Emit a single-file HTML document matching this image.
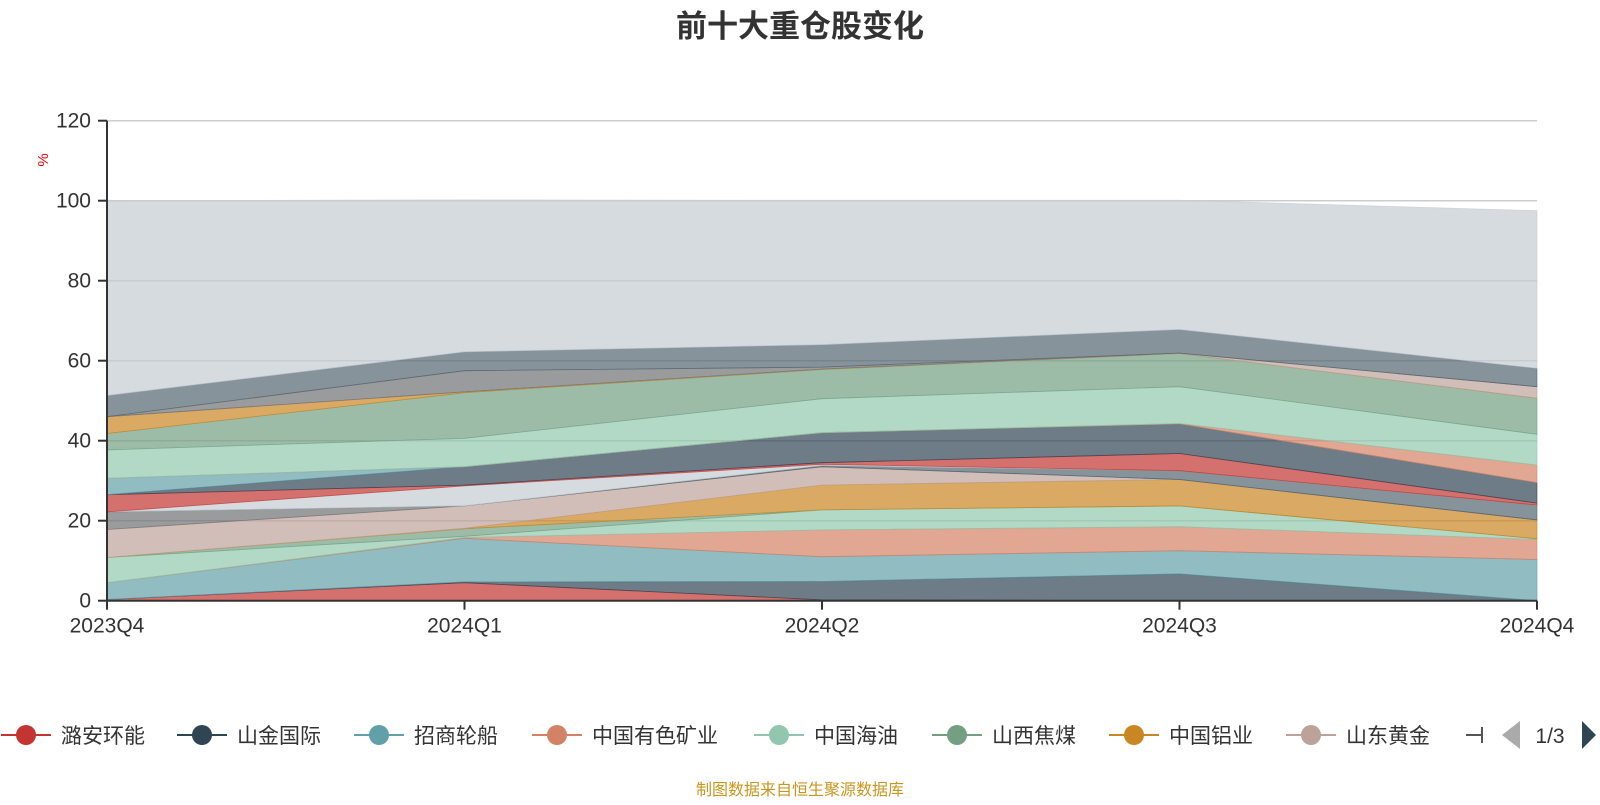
<!DOCTYPE html>
<html><head><meta charset="utf-8"><style>
body{margin:0;background:#fff;}
svg text{font-family:"Liberation Sans","Noto Sans CJK SC",sans-serif;}
</style></head><body>
<svg id="chart" width="1600" height="800" xmlns="http://www.w3.org/2000/svg">
<text x="800" y="37" text-anchor="middle" font-size="31" font-weight="bold" fill="#333">前十大重仓股变化</text>
<g id="grid"></g>
<g id="areas"></g>
<g id="axes"></g>
<g id="legend"></g>
<text x="800" y="795" text-anchor="middle" font-size="16" fill="#c8961e">制图数据来自恒生聚源数据库</text>
</svg>
<script>
const categories = ["2023Q4","2024Q1","2024Q2","2024Q3","2024Q4"];
const yTicks = [0,20,40,60,80,100,120];
const seriesNames = ["潞安环能","山金国际","招商轮船","中国有色矿业","中国海油","山西焦煤","中国铝业","山东黄金","持仓9","持仓10","持仓11","持仓12","持仓13","持仓14","持仓15","持仓16","持仓17","持仓18","持仓19","持仓20","持仓21","其他"];
const s1 = [0.3,4.5,0.2,0,0];
const s2 = [0,0.2,4.6,6.7,0];
const s3 = [4.2,10.9,6.2,5.8,10.3];
const s4 = [0,0.2,6.7,6,5];
const s5 = [6.3,0.3,5,5.2,0.2];
const s6 = [0,1.9,0,0,0];
const s7 = [0,0.1,6.2,6.6,4.7];
const s8 = [7,5.6,4.6,0,0];
const s9 = [4.4,0,0,0,0];
const s10 = [0,0,0.3,2.2,3.7];
const s11 = [0,5,0.3,0,0];
const s12 = [4.3,0.2,0.4,4.3,0.5];
const s13 = [0,4.6,7.5,7.4,5.1];
const s14 = [4.1,0,0,0,0];
const s15 = [0,0,0,0.1,4.4];
const s16 = [7.1,7.1,8.5,9.2,7.7];
const s17 = [4.1,11.4,7.3,8.3,9];
const s18 = [4.2,0.2,0.1,0,0];
const s19 = [0,0,0,0.1,2.9];
const s20 = [0,5.3,0.5,0,0];
const s21 = [5.3,4.7,5.6,5.9,4.6];
const s22 = [48.7,38,36.1,32.3,39.4];
const seriesValues = [s1,s2,s3,s4,s5,s6,s7,s8,s9,s10,s11,s12,s13,s14,s15,s16,s17,s18,s19,s20,s21,s22];
const palette = ['#c23531','#2f4554','#61a0a8','#d48265','#91c7ae','#749f83','#ca8622','#bda29a','#6e7074','#546570','#c4ccd3'];

const NS="http://www.w3.org/2000/svg";
const X0=107,X1=1537,Y0=600.7,Y1=120.7,YMAX=120;
const xPos=i=>X0+(X1-X0)*i/(categories.length-1);
const yPos=v=>Y0-(Y0-Y1)*v/YMAX;
function mk(tag,attrs,parent){const e=document.createElementNS(NS,tag);for(const k in attrs)e.setAttribute(k,attrs[k]);parent.appendChild(e);return e;}
const grid=document.getElementById('grid'),areas=document.getElementById('areas'),axes=document.getElementById('axes'),legend=document.getElementById('legend');

yTicks.forEach(t=>{
  if(t>0){const g=mk('line',{x1:X0,x2:X1,y1:yPos(t),y2:yPos(t),stroke:'#ccc','stroke-width':1.5},grid);
  
  }
  const tk=mk('line',{x1:X0-9,x2:X0,y1:yPos(t),y2:yPos(t),stroke:'#333','stroke-width':2},axes);
  
  
  const lb=mk('text',{x:X0-16,y:yPos(t)+7,'text-anchor':'end','font-size':21,fill:'#333'},axes);
  lb.textContent=t;
  
  
});
const unit=mk('text',{x:0,y:0,'font-size':15,fill:'#e00','text-anchor':'middle',transform:'translate(48,160) rotate(-90)'},axes);
unit.textContent='%';



// stacked areas
let base=categories.map(()=>0);
seriesValues.forEach((vals,si)=>{
  const top=vals.map((v,i)=>base[i]+v);
  let pts=[];
  top.forEach((v,i)=>pts.push(xPos(i)+','+yPos(v)));
  for(let i=base.length-1;i>=0;i--)pts.push(xPos(i)+','+yPos(base[i]));
  const col=palette[si%palette.length];
  const p=mk('polygon',{points:pts.join(' '),fill:col,'fill-opacity':0.7,stroke:col,'stroke-opacity':0.7,'stroke-width':0.8},areas);
  
  
  base=top;
});

const ya=mk('line',{x1:X0,x2:X0,y1:Y1,y2:Y0,stroke:'#333','stroke-width':2},axes);


const xa=mk('line',{x1:X0,x2:X1,y1:Y0,y2:Y0,stroke:'#333','stroke-width':2},axes);


categories.forEach((c,i)=>{
  const tk=mk('line',{x1:xPos(i),x2:xPos(i),y1:Y0,y2:Y0+9,stroke:'#333','stroke-width':2},axes);
  
  
  const lb=mk('text',{x:xPos(i),y:Y0+32,'text-anchor':'middle','font-size':21,fill:'#333'},axes);
  lb.textContent=c;
  
  
});

// legend
const legX=[26,202,379,557,779,957,1134,1311];
const LY=735;
legX.forEach((cx,i)=>{
  const g=mk('g',{},legend);
  
  
  const col=palette[i];
  mk('line',{x1:cx-25,x2:cx+25,y1:LY,y2:LY,stroke:col,'stroke-width':2},g);
  mk('circle',{cx:cx,cy:LY,r:10,fill:col},g);
  const t=mk('text',{x:cx+35,y:LY+8,'font-size':21,fill:'#333'},g);
  t.textContent=seriesNames[i];
});
const part=mk('path',{d:'M1466 735 H1482 M1482 727 V743',stroke:'#555','stroke-width':2,fill:'none'},legend);


const la=mk('polygon',{points:'1502,735 1520,721 1520,749',fill:'#aaa'},legend);


const pg=mk('text',{x:1550,y:743,'text-anchor':'middle','font-size':21,fill:'#333'},legend);
pg.textContent='1/3';


const ra=mk('polygon',{points:'1596,735 1582,721 1582,749',fill:'#2f4554'},legend);


</script>
</body></html>
